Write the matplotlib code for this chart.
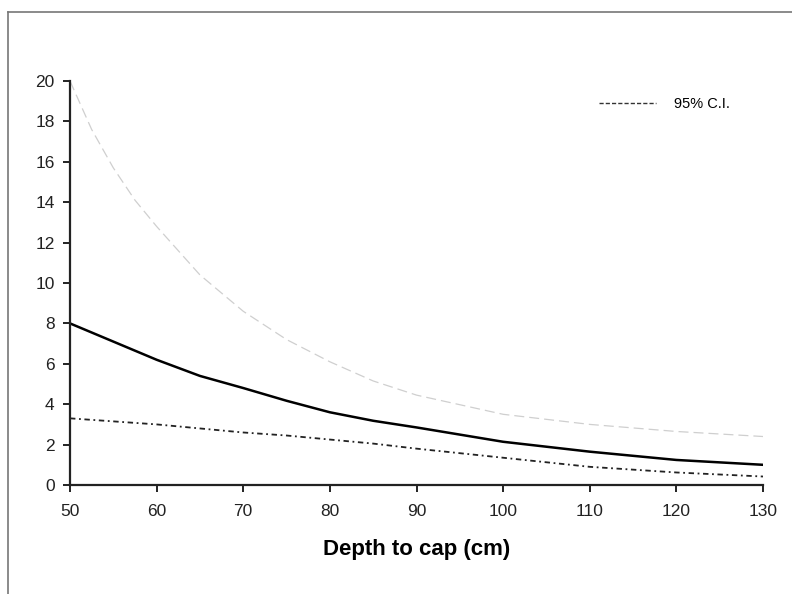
import matplotlib
matplotlib.use("Agg")
import matplotlib.pyplot as plt
from matplotlib.lines import Line2D

plt.rcParams['font.family'] = ['Liberation Sans', 'DejaVu Sans']

depth = [50, 55, 60, 65, 70, 75, 80, 85, 90, 100, 110, 120, 130]
estimate = [8.0, 7.1, 6.2, 5.4, 4.8, 4.17, 3.6, 3.18, 2.85, 2.14, 1.65, 1.24, 1.0]
ci_lower = [3.3, 3.15, 3.0, 2.8, 2.6, 2.45, 2.25, 2.05, 1.8, 1.35, 0.9, 0.62, 0.42]

depth_up = [50, 52.5, 55, 57.5, 60, 65, 70, 75, 80, 85, 90, 100, 110, 120, 130]
ci_upper = [20.0, 17.6, 15.7, 14.1, 12.8, 10.4, 8.6, 7.2, 6.1, 5.15, 4.45, 3.5, 3.0, 2.65, 2.4]

fig = plt.figure(figsize=(7.92, 5.94), dpi=100)
ax = fig.add_axes([70/792, 1 - 485/594, (763 - 70)/792, (485 - 81)/594])

ax.plot(depth_up, ci_upper, color='#cfcfcf', lw=0.9, ls=(0, (8, 4)))
ax.plot(depth, estimate, color='black', lw=1.8)
ax.plot(depth, ci_lower, color='#222222', lw=1.3, ls=(0, (3, 2, 1, 2)))

ax.set_xlim(50, 130)
ax.set_ylim(0, 20)
ax.set_xticks(range(50, 131, 10))
ax.set_yticks(range(0, 21, 2))
for s in ['top', 'right']:
    ax.spines[s].set_visible(False)
for s in ['left', 'bottom']:
    ax.spines[s].set_linewidth(1.6)
    ax.spines[s].set_color('#222222')
ax.tick_params(direction='out', length=5, width=1.4, labelsize=12.5,
               colors='#222222')
ax.tick_params(axis='x', pad=9)
ax.tick_params(axis='y', pad=6)
ax.set_xlabel('Depth to cap (cm)', fontsize=16, fontweight='bold', labelpad=14)

leg_line = Line2D([], [], color='#333333', lw=1.0, ls=(0, (3, 1.5)))
ax.legend([leg_line], ['95% C.I.'], loc='upper left', frameon=False,
          bbox_to_anchor=(0.745, 0.993), fontsize=10.5, handlelength=3.9,
          handletextpad=1.2)

# page frame
fig.add_artist(Line2D([8/792, 8/792], [0, 1 - 12/594], color='#777777', lw=1.2))
fig.add_artist(Line2D([8/792, 1], [1 - 12/594, 1 - 12/594], color='#777777', lw=1.2))

fig.savefig('out.png', dpi=100)
